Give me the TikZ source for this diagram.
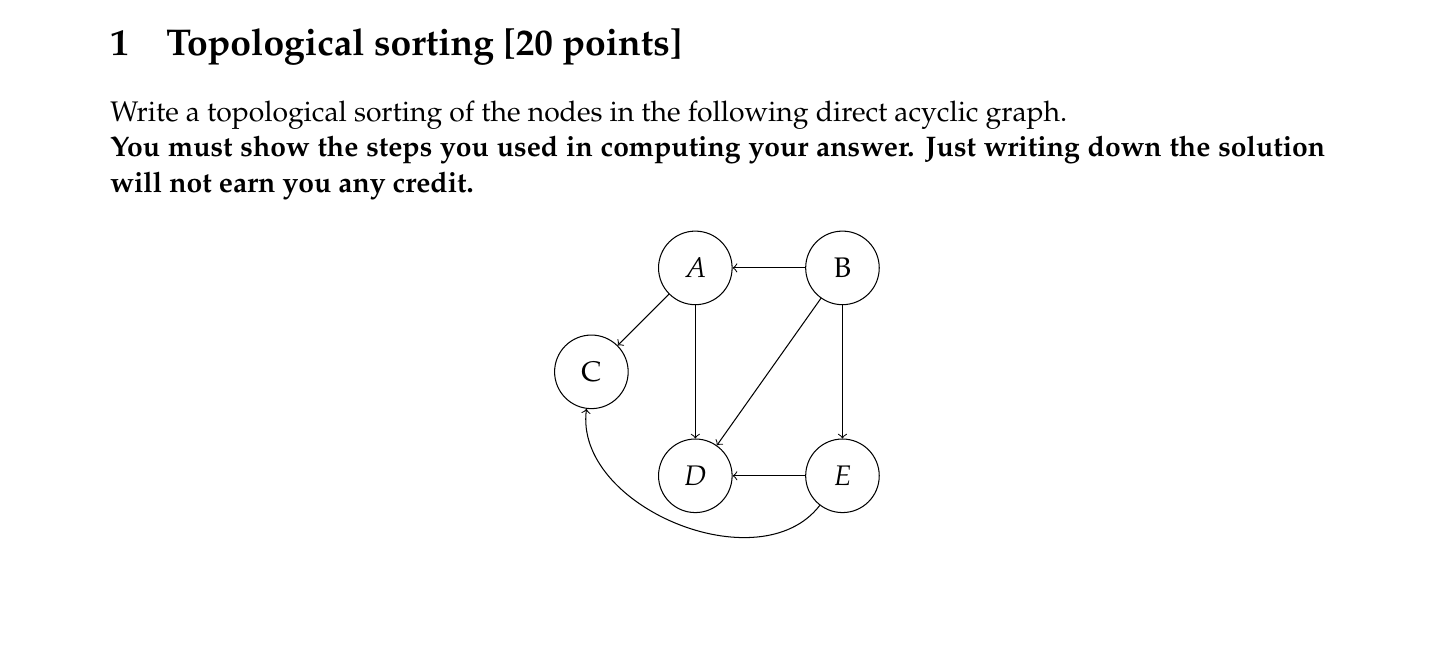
\documentclass[tikz,border=0pt]{standalone}
\usepackage{amsmath,amssymb}
\usepackage[T1]{fontenc}
\usepackage{mathpazo}
\usepackage{xcolor}
\usepackage{tikz}

\begin{document}
\begin{tikzpicture}[
  font=\fontsize{10.95pt}{13.6pt}\selectfont,
  vertex/.style={draw, circle, minimum size=1cm, inner sep=0pt},
  arr/.style={->}
]
  \useasboundingbox (0,0) rectangle (562.3pt,-257.5pt);

  % Text
  \node[anchor=base west, inner sep=0pt, font=\Large\bfseries] (title) at (42.5pt,-21.5pt)
    {1\quad Topological sorting [20 points]};
  \node[anchor=base west, inner sep=0pt] (task) at (42.5pt,-47.1pt)
    {\parbox[t]{469.8pt}{Write a topological sorting of the nodes in the following direct acyclic graph.\\
     \textbf{You must show the steps you used in computing your answer. Just writing down the solution will not earn you any credit.}}};

  % Nodes
  \node[vertex] (a) at (268.9pt,-103.6pt) {$A$};
  \node[vertex] (b) at (325.8pt,-103.6pt) {B};
  \node[vertex] (c) at (228.7pt,-143.8pt) {C};
  \node[vertex] (d) at (268.9pt,-184.0pt) {$D$};
  \node[vertex] (e) at (325.8pt,-184.0pt) {$E$};

  % Paths
  \draw[arr] (b) -- (a);
  \draw[arr] (a) -- (c);
  \draw[arr] (a) -- (d);
  \draw[arr] (b) -- (d);
  \draw[arr] (b) -- (e);
  \draw[arr] (e) -- (d);
  \draw[arr] (e) to[bend left=75] (c);
\end{tikzpicture}
\end{document}
